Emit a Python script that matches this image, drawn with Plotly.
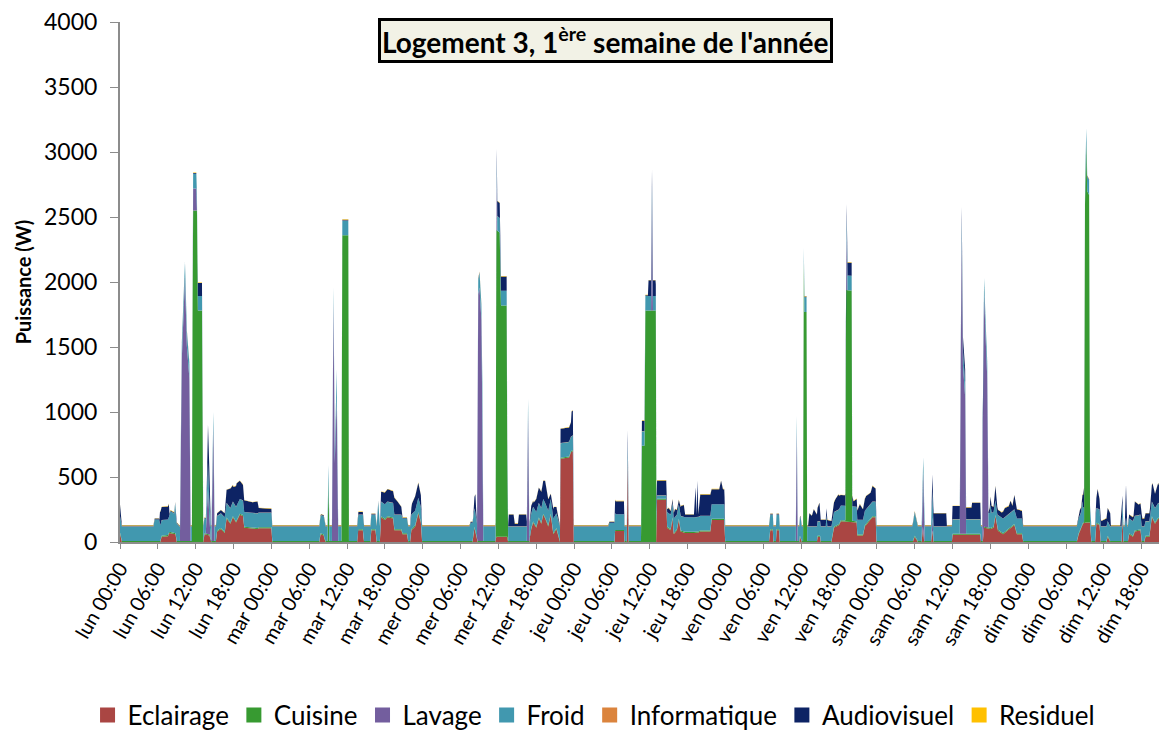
import plotly.graph_objects as go

# hours since Monday 00:00 -> power (W)
TICK_HOURS = [0, 6, 12, 18, 24, 30, 36, 42, 48, 54, 60, 66, 72, 78, 84, 90, 96, 102, 108, 114,
              120, 126, 132, 138, 144, 150, 156, 162]
TICK_LABELS = ["lun 00:00", "lun 06:00", "lun 12:00", "lun 18:00",
               "mar 00:00", "mar 06:00", "mar 12:00", "mar 18:00",
               "mer 00:00", "mer 06:00", "mer 12:00", "mer 18:00",
               "jeu 00:00", "jeu 06:00", "jeu 12:00", "jeu 18:00",
               "ven 00:00", "ven 06:00", "ven 12:00", "ven 18:00",
               "sam 00:00", "sam 06:00", "sam 12:00", "sam 18:00",
               "dim 00:00", "dim 06:00", "dim 12:00", "dim 18:00"]

ECLAIRAGE = [
    (0, 65), (0.3, 0),
    (6.4, 0), (6.6, 40), (7.6, 45), (7.8, 70), (8.8, 60), (9.0, 0),
    (13.2, 0), (13.4, 60), (14.2, 50), (14.4, 0),
    (15.2, 0), (15.4, 80), (16.0, 100), (16.6, 70), (16.9, 180), (17.5, 140), (17.9, 190), (18.4, 150),
    (19.0, 210), (19.5, 200), (19.7, 110), (21.8, 100), (22.0, 105), (24.0, 105), (24.15, 0),
    (31.6, 0), (31.8, 60), (32.3, 50), (32.5, 0),
    (37.6, 0), (37.75, 90), (38.5, 90), (38.65, 0),
    (39.7, 0), (39.85, 90), (40.5, 90), (40.65, 0),
    (41.2, 0), (41.4, 190), (42.0, 170), (42.4, 190), (43.3, 180), (43.5, 90), (44.6, 90), (44.8, 60),
    (45.5, 60), (45.7, 0),
    (46.0, 0), (46.2, 90), (46.8, 120), (47.3, 220), (47.7, 150), (47.9, 0),
    (55.9, 0), (56.2, 110), (56.5, 40), (56.7, 0),
    (59.5, 0), (59.6, 40), (61.4, 40), (61.5, 0),
    (64.9, 0), (65.1, 80), (65.5, 150), (66.0, 110), (66.4, 180), (66.8, 140), (67.1, 210), (67.5, 170),
    (67.9, 120), (68.3, 210), (68.7, 60), (69.2, 100), (69.5, 40), (69.65, 0),
    (69.75, 0), (69.85, 640), (71.2, 650), (71.5, 690), (71.8, 700), (71.95, 0),
    (78.4, 0), (78.5, 85), (79.9, 85), (80.0, 0),
    (80.35, 0), (80.5, 630), (80.65, 0),
    (85.0, 0), (85.15, 325), (86.6, 325), (86.75, 110), (87.3, 90), (87.6, 180), (87.8, 60), (88.3, 90),
    (88.6, 170), (88.9, 80), (89.6, 70), (91.6, 70), (92.0, 80), (93.6, 80), (93.8, 170), (95.8, 170),
    (95.95, 0),
    (102.9, 0), (103.1, 90), (103.5, 90), (103.6, 0),
    (104.0, 0), (104.1, 90), (104.5, 90), (104.6, 0),
    (107.7, 0), (107.8, 40), (108.1, 0),
    (110.5, 0), (110.6, 40), (111.0, 40), (111.1, 0),
    (112.8, 0), (113.2, 110), (114.0, 130), (114.3, 160), (115.9, 156), (116.8, 150), (116.9, 50),
    (117.8, 50), (118.1, 120), (119.2, 190), (119.8, 190), (119.95, 0),
    (125.7, 0), (126.0, 40), (126.4, 0),
    (127.1, 0), (127.3, 110), (127.5, 0),
    (128.6, 0), (128.8, 80), (129.0, 0),
    (131.9, 0), (132.0, 55), (136.4, 55), (136.5, 0),
    (136.8, 0), (137.0, 110), (138.0, 100), (138.5, 110), (138.8, 200), (139.1, 90), (140.0, 60),
    (140.8, 90), (141.8, 130), (142.2, 60), (143.0, 60), (143.2, 0),
    (151.7, 0), (152.0, 60), (152.6, 140), (153.0, 150), (153.8, 150), (154.0, 0),
    (154.6, 0), (154.8, 140), (155.3, 130), (155.5, 0),
    (156.4, 0), (156.6, 40), (157.0, 0),
    (158.8, 0), (158.95, 180), (159.1, 0),
    (159.8, 0), (160.0, 60), (160.6, 40), (160.9, 80), (161.8, 90), (162.0, 0),
    (162.4, 0), (162.6, 40), (163.2, 40), (163.6, 190), (164.1, 140), (164.6, 180), (165.3, 150),
    (165.8, 220), (166.5, 130), (168, 130),
]

CUISINE = [
    (0, 8),
    (11.4, 8), (11.55, 2550), (12.2, 2550), (12.35, 1780), (13.0, 1780), (13.15, 8),
    (32.9, 8), (33.05, 480), (33.2, 8),
    (35.1, 8), (35.25, 2360), (36.2, 2360), (36.3, 8),
    (59.55, 8), (59.68, 2360), (60.2, 2340), (60.4, 1780), (61.3, 1780), (61.45, 8),
    (82.6, 8), (82.75, 740), (83.15, 740), (83.3, 1780), (84.95, 1780), (85.05, 8),
    (108.3, 8), (108.42, 2150), (108.52, 1770), (108.85, 1770), (108.95, 8),
    (115.0, 8), (115.12, 1780), (116.0, 1780), (116.1, 8),
    (152.85, 8), (153.0, 2450), (153.2, 2920), (153.35, 2550), (153.65, 2520), (153.8, 8),
    (168, 8),
]

LAVAGE = [
    (0, 0),
    (9.5, 0), (9.8, 1400), (10.3, 2030), (10.6, 1500), (11.0, 1250), (11.2, 0),
    (11.5, 0), (11.6, 170), (12.1, 170), (12.2, 0),
    (13.6, 0), (13.95, 350), (14.3, 0),
    (14.5, 0), (14.8, 880), (15.0, 0),
    (33.6, 0), (33.85, 1840), (34.05, 600), (34.35, 1100), (34.6, 0),
    (56.6, 0), (56.8, 1900), (57.0, 1950), (57.3, 1700), (57.45, 1000), (57.6, 0),
    (59.62, 0), (59.72, 430), (59.82, 0),
    (64.5, 0), (64.7, 980), (64.9, 0),
    (84.2, 0), (84.35, 850), (84.5, 0),
    (107.15, 0), (107.3, 850), (107.45, 0),
    (115.1, 0), (115.2, 450), (115.35, 0),
    (127.1, 0), (127.35, 450), (127.6, 0),
    (128.6, 0), (128.8, 100), (129.0, 0),
    (133.15, 0), (133.3, 1300), (133.45, 2300), (133.65, 1300), (134.0, 1050), (134.15, 0),
    (136.7, 0), (136.85, 1300), (137.0, 1800), (137.25, 1450), (137.5, 1150), (137.7, 0),
    (168, 0),
]

FROID = [
    (0, 125), (0.3, 112),
    (5.3, 112), (5.5, 165), (6.2, 165), (6.4, 120), (7.8, 120), (8.0, 160), (8.6, 150), (8.75, 230),
    (8.9, 140), (9.4, 112),
    (13.7, 112), (13.95, 200), (14.2, 112),
    (31.6, 112), (31.9, 140), (32.4, 140), (32.6, 112),
    (34.2, 112), (34.35, 220), (34.5, 112),
    (40.7, 112), (40.95, 300), (41.2, 112),
    (55.4, 112), (55.6, 140), (56.3, 140), (56.5, 112),
    (57.35, 112), (57.45, 230), (57.6, 112),
    (77.4, 112), (77.6, 140), (78.4, 140), (78.6, 120), (79.9, 120), (80.0, 112),
    (80.35, 112), (80.5, 120), (80.65, 112),
    (85.05, 112), (85.15, 25), (86.6, 25), (86.75, 112),
    (107.7, 112), (107.9, 160), (108.1, 112),
    (111.9, 112), (112.0, 200), (112.15, 112),
    (125.6, 112), (126.0, 180), (126.5, 112),
    (128.7, 112), (128.8, 200), (128.95, 112),
    (137.9, 112), (138.0, 180), (138.2, 112),
    (152.4, 112), (152.55, 170), (152.7, 112),
    (159.3, 112), (159.5, 180), (159.7, 112),
    (168, 112),
]

INFORMATIQUE = [(0, 1), (168, 1)]

AUDIOVISUEL = [
    (0, 90), (0.3, 6),
    (6.25, 6), (6.35, 100), (7.75, 100), (7.85, 6),
    (12.3, 6), (12.35, 100), (13.0, 100), (13.1, 6),
    (13.7, 6), (13.9, 300), (14.15, 250), (14.35, 6),
    (15.2, 6), (15.4, 20), (16.6, 30), (16.9, 100), (17.5, 150), (18.0, 120), (18.5, 170), (19.0, 140),
    (19.5, 120), (19.7, 90), (21.0, 80), (21.8, 90), (22.0, 35), (24.0, 30), (24.15, 6),
    (37.6, 6), (37.8, 20), (38.6, 20), (38.7, 6),
    (41.2, 6), (41.4, 75), (42.0, 90), (42.5, 95), (43.3, 90), (43.5, 130), (44.0, 100), (44.6, 60),
    (44.8, 6),
    (46.0, 6), (46.3, 80), (46.8, 110), (47.3, 115), (47.7, 90), (47.9, 6),
    (56.0, 6), (56.35, 150), (56.6, 6),
    (59.65, 6), (59.75, 115), (60.2, 115), (60.4, 110), (61.3, 110), (61.45, 6),
    (61.55, 6), (61.65, 90), (62.4, 90), (62.6, 20), (63.1, 20), (63.25, 90), (64.4, 90), (64.55, 6),
    (65.0, 6), (65.2, 60), (65.6, 40), (66.0, 100), (66.5, 120), (67.0, 130), (67.4, 170), (67.8, 100),
    (68.3, 40), (68.8, 80), (69.3, 40), (69.65, 6),
    (69.75, 6), (69.85, 110), (71.5, 110), (71.6, 190), (71.85, 190), (71.95, 6),
    (78.4, 6), (78.5, 100), (79.9, 100), (80.0, 6),
    (80.35, 6), (80.5, 100), (80.65, 6),
    (82.6, 6), (82.75, 80), (83.15, 80), (83.3, 6),
    (83.7, 6), (83.8, 120), (84.9, 120), (85.0, 60), (85.15, 115), (86.6, 115), (86.75, 20),
    (87.0, 40), (87.5, 20), (88.0, 60), (88.5, 20), (89.0, 80), (89.4, 90), (89.6, 20), (91.0, 20),
    (91.25, 230), (91.4, 20), (91.55, 280), (91.7, 20),
    (92.0, 165), (93.6, 165), (93.8, 115), (95.0, 115), (95.3, 180), (95.6, 115), (95.85, 115), (95.95, 6),
    (109.1, 6), (109.3, 100), (109.7, 80), (110.0, 130), (110.5, 90), (110.9, 140), (111.1, 50),
    (112.0, 50), (112.8, 40), (113.4, 90), (113.9, 116), (114.3, 80), (114.9, 80), (115.1, 100),
    (116.0, 100), (116.3, 40), (116.8, 60), (117.3, 120), (117.8, 80), (118.3, 100), (119.0, 80),
    (119.3, 120), (119.8, 100), (119.95, 6),
    (128.6, 6), (128.8, 130), (129.0, 100), (131.0, 100), (131.1, 6),
    (131.9, 6), (132.0, 100), (134.1, 100), (134.15, 90), (135.0, 90), (135.1, 125), (136.4, 125),
    (136.5, 6),
    (137.7, 6), (138.0, 60), (138.5, 40), (138.8, 110), (139.2, 40), (139.8, 40), (140.3, 70),
    (140.9, 60), (141.2, 90), (141.5, 40), (141.8, 110), (142.2, 70), (143.0, 60), (143.2, 6),
    (151.7, 6), (152.2, 40), (152.5, 30), (152.85, 150), (153.0, 6),
    (154.6, 6), (155.0, 150), (155.3, 80), (155.6, 40), (156.4, 60), (156.5, 100), (157.0, 100),
    (157.1, 6),
    (158.6, 6), (158.8, 200), (159.0, 6),
    (159.3, 6), (159.5, 250), (159.7, 6),
    (159.8, 6), (160.0, 30), (160.7, 30), (160.9, 110), (161.5, 80), (162.0, 90), (162.1, 60),
    (163.3, 60), (163.7, 150), (164.1, 110), (164.5, 160), (165.0, 120), (165.5, 90), (166.0, 140),
    (168, 140),
]

RESIDUEL = [(0, 3), (168, 3)]

SERIES = [
    ("Eclairage", ECLAIRAGE, "#AA4643"),
    ("Cuisine", CUISINE, "#379A31"),
    ("Lavage", LAVAGE, "#735E9E"),
    ("Froid", FROID, "#4198AF"),
    ("Informatique", INFORMATIQUE, "#DB843D"),
    ("Audiovisuel", AUDIOVISUEL, "#0D2364"),
    ("Residuel", RESIDUEL, "#FFC000"),
]

FONT = "Lato, 'Open Sans', sans-serif"

fig = go.Figure()

for i, (name, pts, color) in enumerate(SERIES):
    fig.add_trace(go.Scatter(
        x=[p[0] for p in pts], y=[p[1] for p in pts], name=name,
        mode="lines", stackgroup="one", stackgaps="interpolate",
        line=dict(width=0, color=color), fillcolor=color,
        showlegend=False, hoverinfo="skip"))

# legend entries with square swatches, like Excel
for name, pts, color in SERIES:
    fig.add_trace(go.Scatter(
        x=[None], y=[None], name=name, mode="markers",
        marker=dict(symbol="square", size=15, color=color)))

fig.add_annotation(
    text="<b>Logement 3, 1<sup>ère</sup> semaine de l'année</b>",
    xref="paper", yref="paper", x=0.464, y=0.965, xanchor="center", yanchor="middle",
    showarrow=False, font=dict(size=28, color="black", family=FONT),
    bgcolor="#F2F2E6", bordercolor="black", borderwidth=3, borderpad=1)

fig.update_xaxes(
    range=[0, 166], tickvals=TICK_HOURS, ticktext=TICK_LABELS, tickangle=-60,
    showline=True, linecolor="#8C8C8C", linewidth=2, ticks="outside", ticklen=5,
    tickcolor="#8C8C8C", showgrid=False, zeroline=False,
    tickfont=dict(size=20, color="black", family=FONT))

fig.update_yaxes(
    range=[0, 4000], dtick=500, showline=True, linecolor="#8C8C8C", linewidth=2,
    ticks="outside", ticklen=8, tickcolor="#8C8C8C", showgrid=False, zeroline=False,
    ticklabelstandoff=8, ticklabeloverflow="allow",
    tickfont=dict(size=23, color="black", family=FONT),
    title=dict(text="<b>Puissance (W)</b>", font=dict(size=20, color="black", family=FONT), standoff=7))

# the page body adds an 8px margin, so the figure is sized to fit inside it
fig.update_layout(
    width=1159, height=723,
    margin=dict(l=112, r=0, t=14, b=189, autoexpand=False),
    plot_bgcolor="white", paper_bgcolor="white",
    font=dict(family=FONT, color="black"),
    legend=dict(orientation="h", traceorder="normal", x=-0.031, y=-0.333,
                yanchor="middle", xanchor="left",
                font=dict(size=26, color="black", family=FONT), itemwidth=30,
                bgcolor="rgba(0,0,0,0)"),
)

fig.write_html("out.html")
